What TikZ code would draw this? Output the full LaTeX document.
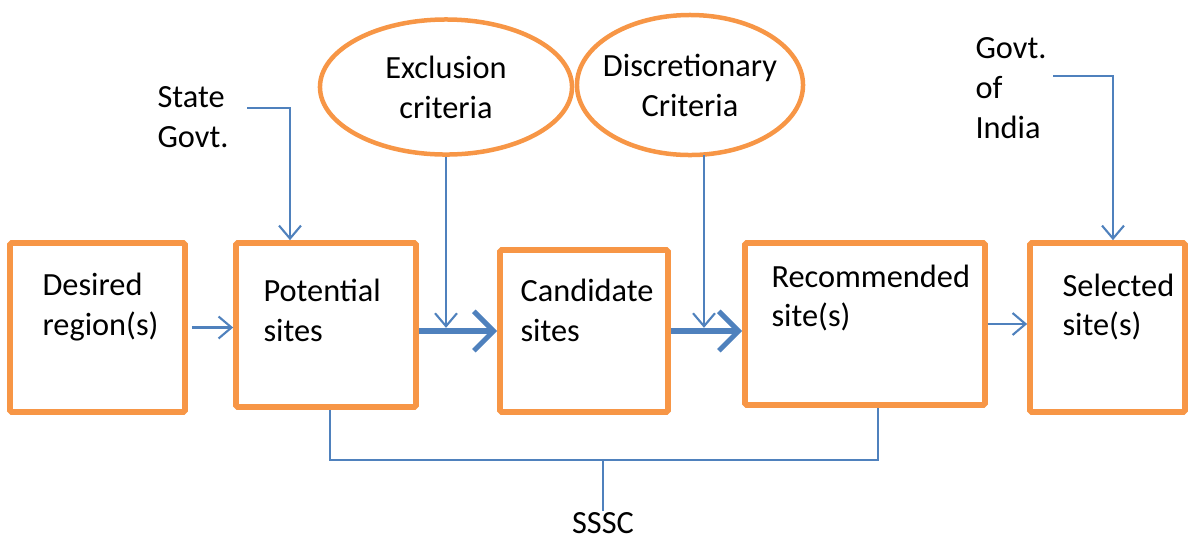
\documentclass[tikz,border=0pt]{standalone}
\usepackage{fontspec}
\setmainfont{Carlito}
\usepackage{tikz}
\usetikzlibrary{arrows.meta, shapes.geometric}
\definecolor{siteorange}{RGB}{247,150,70}
\definecolor{flowblue}{RGB}{79,129,189}
\tikzset{
	site/.style = {draw=siteorange, line width=2pt, inner sep=0pt, rounded corners=0.6pt},
	crit/.style = {ellipse, draw=siteorange, line width=1.6pt, inner sep=0pt},
	lbl/.style = {align=left, inner sep=0pt, font=\fontsize{11.5}{14.2}\selectfont},
	flow/.style = {flowblue, line width=0.75pt, arrows = {-Straight Barb[length=4.6pt, width=7.8pt]}},
	bigflow/.style = {flowblue, line width=1.8pt, arrows = {-Straight Barb[length=7pt, width=14pt]}},
	link/.style = {flowblue, line width=0.75pt},
}

\begin{document}
\begin{tikzpicture}[x=0.0125cm, y=-0.0125cm]
		\useasboundingbox (0,0) rectangle (1188,538);
		% the five stages
		\node[site, minimum width=2.1875cm, minimum height=2.1125cm] (desired) at (97.5,327.5) {};
		\node[site, minimum width=2.25cm, minimum height=2.05cm] (potential) at (326,325) {};
		\node[site, minimum width=2.1cm, minimum height=2.025cm] (candidate) at (584,331) {};
		\node[site, minimum width=3cm, minimum height=2.025cm] (recommended) at (865,324) {};
		\node[site, minimum width=1.9375cm, minimum height=2.1125cm] (selected) at (1107.5,327.5) {};
		\node[lbl, anchor=west] (desiredtxt) at (42,307) {Desired\\region(s)};
		\node[lbl, anchor=west] (potentialtxt) at (263,310) {Potential\\sites};
		\node[lbl, anchor=west] (candidatetxt) at (520,310) {Candidate\\sites};
		\node[lbl, anchor=west] (recommendedtxt) at (771,298) {Recommended\\site(s)};
		\node[lbl, anchor=west] (selectedtxt) at (1062,307) {Selected\\site(s)};
		% criteria
		\node[crit, minimum width=3.15cm, minimum height=1.6875cm] (excl) at (446,87) {};
		\node[crit, minimum width=2.825cm, minimum height=1.75cm] (disc) at (690,85) {};
		\node[lbl, align=center] (excltxt) at (excl.center) {Exclusion\\criteria};
		\node[lbl, align=center] (disctxt) at (disc.center) {Discretionary\\Criteria};
		% authorities
		\node[lbl, anchor=west] (state) at (157,117) {State\\Govt.};
		\node[lbl, anchor=west] (india) at (975,88) {Govt.\\of\\India};
		\node[lbl, anchor=base] (sssc) at (603,533) {SSSC};
		\coordinate (statefrom) at (247,108);
		\coordinate (statecorner) at (290,108);
		\coordinate (indiafrom) at (1053,76);
		\coordinate (indiacorner) at (1113,76);
		\coordinate (discfrom) at (704,155);
		\coordinate (ssscleft) at (330,460);
		\coordinate (ssscright) at (878,460);
		\coordinate (ssscmid) at (603,460);

		\draw[flow] ([xshift=0.05cm]desired.east) -- (desired.east -| potential.west);
		\draw[bigflow] (potential.east |- candidate.west) -- (candidate.west);
		\draw[bigflow] (candidate.east) -- (candidate.east -| recommended.west);
		\draw[flow] (recommended.east) -- (recommended.east -| selected.west);
		\draw[flow] (excl.south) -- ([yshift=0.04cm]excl.south |- candidate.west);
		\draw[flow] (discfrom) -- ([yshift=0.04cm]discfrom |- candidate.west);
		\draw[flow] (statefrom) -- (statecorner) -- (statecorner |- potential.north);
		\draw[flow] (indiafrom) -- (indiacorner) -- (indiacorner |- selected.north);
		\draw[link] (ssscleft |- potential.south) -- (ssscleft) -- (ssscright) -- (ssscright |- recommended.south);
		\draw[link] (ssscmid) -- (sssc.north);
	\end{tikzpicture}
\end{document}
